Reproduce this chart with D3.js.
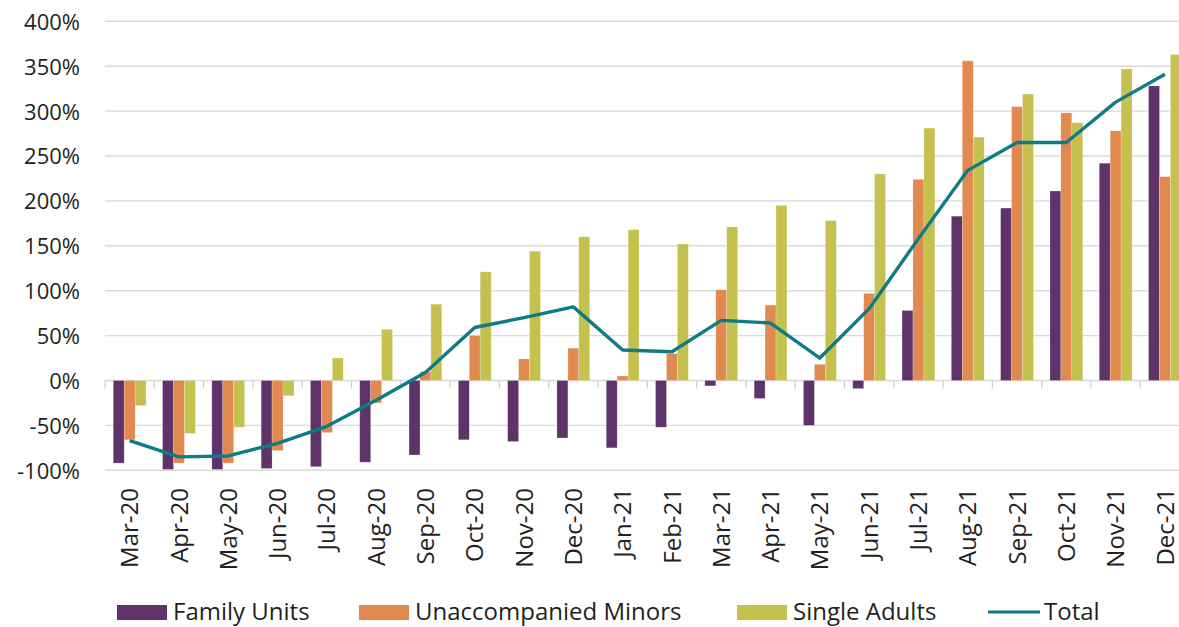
<!DOCTYPE html>
<html>
<head>
<meta charset="utf-8">
<script src="https://cdn.jsdelivr.net/npm/d3@7"></script>
<style>
  html, body { margin: 0; padding: 0; background: #fff; overflow: hidden; }
  svg { display: block; font-family: "Open Sans", "Noto Sans", sans-serif; }
</style>
</head>
<body>
<svg id="chart" width="1179" height="627"></svg>
<script>
const months = ["Mar-20","Apr-20","May-20","Jun-20","Jul-20","Aug-20","Sep-20","Oct-20","Nov-20","Dec-20",
  "Jan-21","Feb-21","Mar-21","Apr-21","May-21","Jun-21","Jul-21","Aug-21","Sep-21","Oct-21","Nov-21","Dec-21"];
const familyUnits = [-92, -99, -99, -98, -96, -91, -83, -66, -68, -64, -75, -52, -6, -20, -50, -9, 78, 183, 192, 211, 242, 328];
const unaccompaniedMinors = [-66, -92, -92, -78, -58, -25, 10, 50, 24, 36, 5, 30, 101, 84, 18, 97, 224, 356, 305, 298, 278, 227];
const singleAdults = [-28, -59, -52, -17, 25, 57, 85, 121, 144, 160, 168, 152, 171, 195, 178, 230, 281, 271, 319, 287, 347, 363];
const total = [-67, -85, -84, -70, -51, -22, 9, 59, 70, 82, 34, 32, 67, 64, 25, 80, 158, 234, 265, 265, 310, 341];
const yTicks = [-100, -50, 0, 50, 100, 150, 200, 250, 300, 350, 400];
const seriesNames = ["Family Units", "Unaccompanied Minors", "Single Adults"];
const lineName = "Total";

const colors = { "Family Units": "#5E336A", "Unaccompanied Minors": "#E08A50", "Single Adults": "#C5C14E", "Total": "#0E7B86" };
const seriesValues = { "Family Units": familyUnits, "Unaccompanied Minors": unaccompaniedMinors, "Single Adults": singleAdults };

const svg = d3.select("#chart");
const plotLeft = 105, plotRight = 1189.6, yTop = 21.3, yBottom = 470.3;

const x = d3.scaleBand().domain(months).range([plotLeft, plotRight]).paddingInner(0).paddingOuter(0);
const bw = x.bandwidth();
const x1 = d3.scaleBand().domain(seriesNames).range([8.25, bw - 8.25]);
const y = d3.scaleLinear().domain([-100, 400]).range([yBottom, yTop]);

// gridlines
const grid = svg.append("g");
grid.selectAll("line").data(yTicks).join("line")
  .attr("x1", plotLeft).attr("x2", 1179)
  .attr("y1", d => y(d)).attr("y2", d => y(d))
  .attr("stroke", "#dadada").attr("stroke-width", 1.4);

// y axis labels
const yAxis = d3.axisLeft(y).tickValues(yTicks).tickFormat(d => d + "%").tickSize(0).tickPadding(0);
const yg = svg.append("g").attr("transform", "translate(80,0)").call(yAxis);
yg.select(".domain").remove();
yg.selectAll("text").attr("font-size", 22).attr("fill", "#231f20")
  .attr("font-family", "'Open Sans', sans-serif").attr("dy", "0.36em");

// category boundary ticks on zero line
const tickPositions = months.map(m => x(m));
svg.append("g").selectAll("line").data(tickPositions).join("line")
  .attr("x1", d => d).attr("x2", d => d)
  .attr("y1", y(0)).attr("y2", y(0) + 8)
  .attr("stroke", "#d0d0d0").attr("stroke-width", 1.2);

// bars
const barData = [];
months.forEach((m, i) => seriesNames.forEach(s => barData.push({ m, s, v: seriesValues[s][i] })));
svg.append("g").selectAll("rect").data(barData).join("rect")
  .attr("x", d => x(d.m) + x1(d.s))
  .attr("width", x1.bandwidth())
  .attr("y", d => y(Math.max(0, d.v)))
  .attr("height", d => Math.abs(y(d.v) - y(0)))
  .attr("fill", d => colors[d.s])
  .attr("stroke", "#ffffff").attr("stroke-opacity", 0.35).attr("stroke-width", 0.6);

// total line
const line = d3.line().x((d, i) => x(months[i]) + bw / 2).y(d => y(d));
svg.append("path").datum(total)
  .attr("d", line).attr("fill", "none")
  .attr("stroke", colors["Total"]).attr("stroke-width", 3.4).attr("stroke-linejoin", "round");

// x labels
const xg = svg.append("g");
xg.selectAll("text").data(months).join("text")
  .attr("transform", d => `translate(${x(d) + bw / 2},488) rotate(-90)`)
  .attr("text-anchor", "end").attr("dy", "0.36em")
  .attr("font-size", 24).attr("fill", "#231f20")
  .text(d => d);

// legend
const legendItems = [
  { name: "Family Units", x: 117, type: "rect" },
  { name: "Unaccompanied Minors", x: 359, type: "rect" },
  { name: "Single Adults", x: 737, type: "rect" },
  { name: lineName, x: 988, type: "line" }
];
const lg = svg.append("g");
legendItems.forEach(it => {
  if (it.type === "rect") {
    lg.append("rect").attr("x", it.x).attr("y", 605).attr("width", 50).attr("height", 15).attr("fill", colors[it.name]);
  } else {
    lg.append("line").attr("x1", it.x).attr("x2", it.x + 52).attr("y1", 612).attr("y2", 612)
      .attr("stroke", colors[it.name]).attr("stroke-width", 3);
  }
  lg.append("text").attr("x", it.x + 56).attr("y", 620).attr("font-size", 24).attr("fill", "#231f20").text(it.name);
});
</script>
</body>
</html>
